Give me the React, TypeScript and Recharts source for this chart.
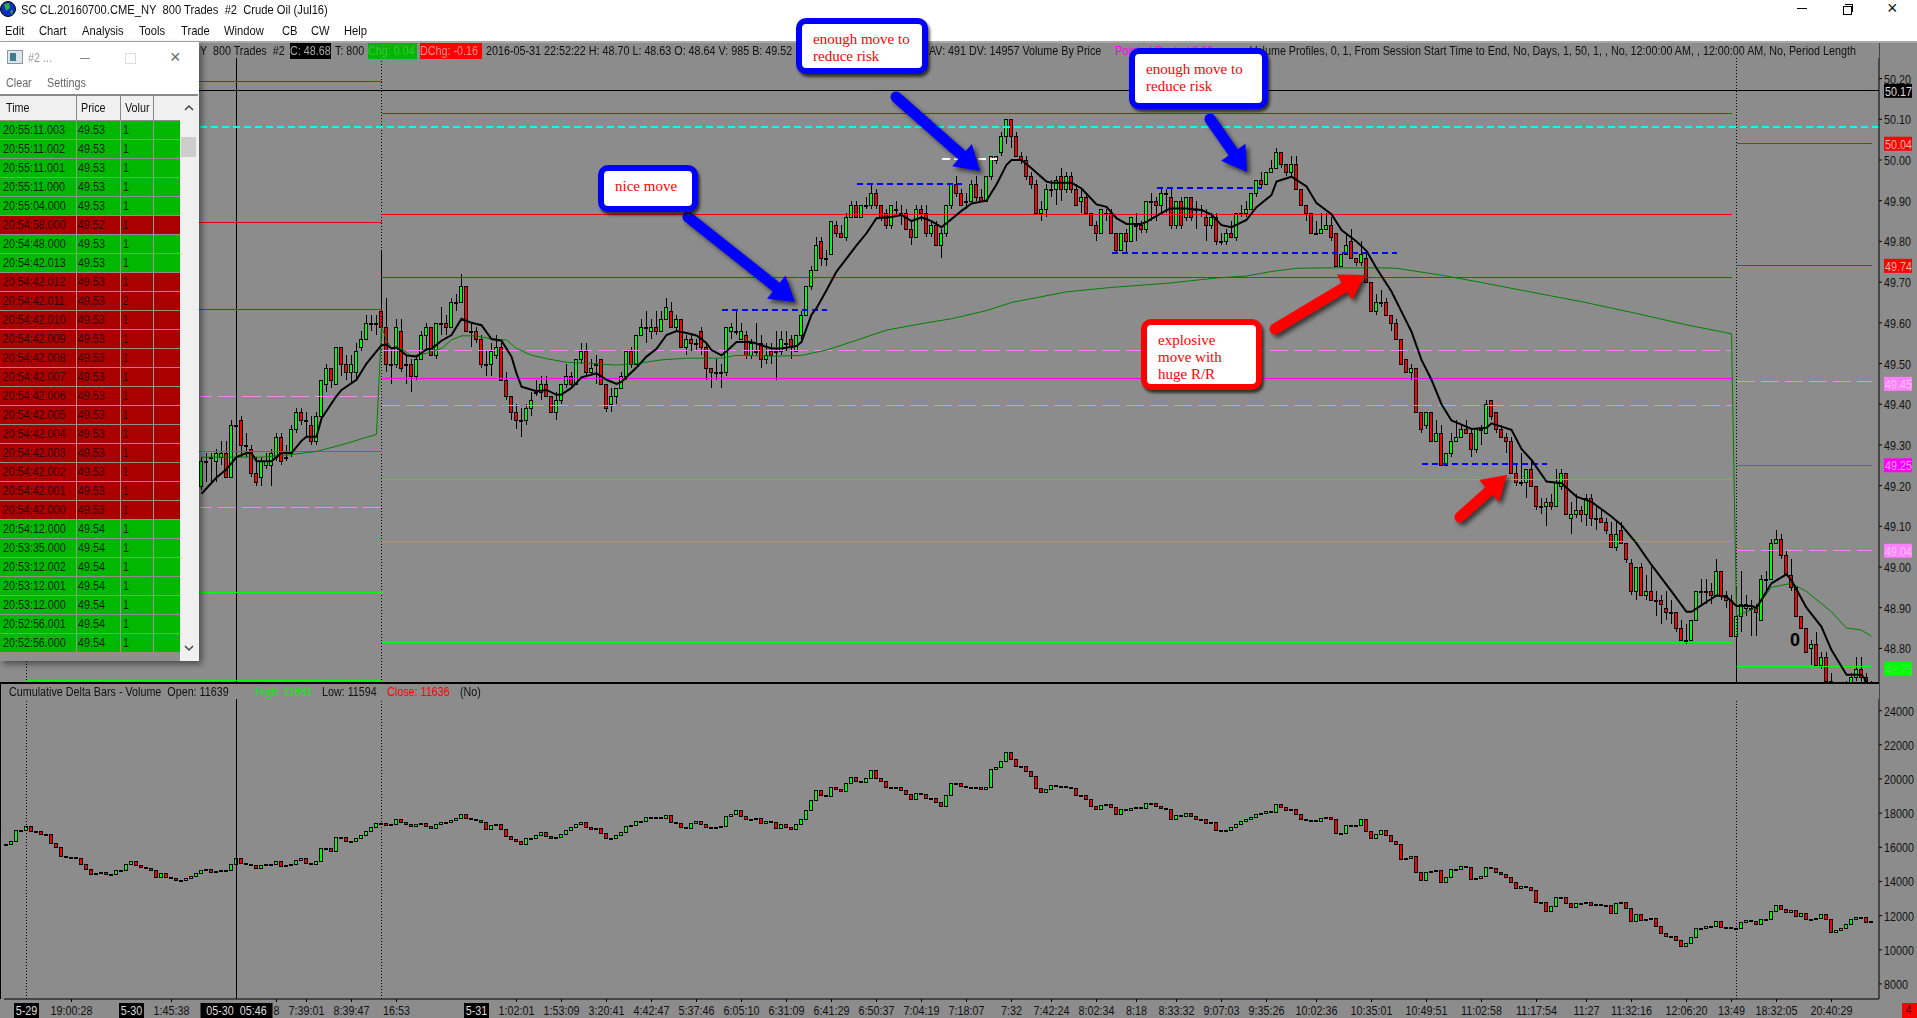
import { Bar, ComposedChart, Line, ReferenceLine, XAxis, YAxis } from "recharts";

// ---- price panel candles, bar 39 onward (everything before sits behind the time & sales window)
const PRICE_FIRST_BAR = 39;
const priceOpen = [
  49.20,49.26,49.27,49.26,49.27,49.28,49.22,49.35,49.36,49.30,
  49.29,49.23,49.22,49.25,49.25,49.27,49.32,49.27,49.28,49.34,
  49.38,49.36,49.35,49.31,49.37,49.45,49.49,49.45,49.54,49.50,
  49.48,49.48,49.54,49.56,49.60,49.60,49.63,49.59,49.50,49.50,
  49.58,49.50,49.50,49.47,49.51,49.57,49.59,49.52,49.60,49.60,
  49.59,49.65,49.65,49.69,49.58,49.58,49.56,49.50,49.50,49.52,
  49.54,49.46,49.42,49.38,49.36,49.36,49.39,49.43,49.43,49.45,
  49.42,49.38,49.41,49.45,49.47,49.45,49.51,49.53,49.48,49.50,
  49.51,49.45,49.40,49.42,49.44,49.47,49.53,49.50,49.57,49.59,
  49.58,49.59,49.58,49.61,49.63,49.59,49.61,49.54,49.56,49.55,
  49.58,49.54,49.49,49.48,49.48,49.48,49.58,49.58,49.56,49.57,
  49.52,49.53,49.55,49.51,49.53,49.53,49.53,49.55,49.56,49.53,
  49.57,49.62,49.69,49.73,49.80,49.76,49.77,49.84,49.82,49.81,
  49.86,49.89,49.86,49.89,49.89,49.92,49.89,49.87,49.84,49.88,
  49.87,49.87,49.83,49.81,49.88,49.87,49.82,49.84,49.79,49.82,
  49.89,49.94,49.92,49.90,49.90,49.94,49.91,49.90,49.96,50.00,
  50.02,50.06,50.10,50.06,50.01,50.00,49.96,49.94,49.87,49.88,
  49.93,49.93,49.96,49.93,49.96,49.93,49.90,49.91,49.87,49.84,
  49.82,49.87,49.87,49.82,49.78,49.82,49.80,49.84,49.84,49.83,
  49.90,49.90,49.89,49.92,49.91,49.84,49.90,49.86,49.91,49.88,
  49.88,49.86,49.84,49.86,49.80,49.80,49.82,49.81,49.87,49.87,
  49.88,49.92,49.95,49.94,49.97,49.98,50.02,49.99,49.97,49.99,
  49.93,49.89,49.87,49.82,49.82,49.83,49.84,49.82,49.74,49.77,
  49.80,49.76,49.75,49.76,49.70,49.63,49.65,49.65,49.62,49.60,
  49.56,49.51,49.48,49.49,49.38,49.35,49.38,49.31,49.33,49.25,
  49.28,49.31,49.32,49.34,49.33,49.29,49.34,49.33,49.41,49.38,
  49.34,49.32,49.31,49.23,49.21,49.21,49.24,49.20,49.15,49.15,
  49.16,49.15,49.20,49.23,49.12,49.13,49.14,49.13,49.17,49.12,
  49.12,49.11,49.08,49.05,49.09,49.06,49.01,48.94,49.00,48.93,
  48.94,48.92,48.92,48.90,48.89,48.89,48.85,48.82,48.82,48.87,
  48.94,48.94,48.94,48.93,48.99,48.93,48.92,48.83,48.88,48.90,
  48.90,48.90,48.87,48.97,48.97,49.06,49.07,49.03,48.98,48.95,
  48.88,48.85,48.80,48.81,48.76,48.78,48.72,48.70,48.69,48.69,
  48.70,48.73,48.75,48.73,48.71,
];
const priceClose = [
  49.26,49.26,49.27,49.28,49.28,49.22,49.35,49.35,49.30,49.30,
  49.23,49.21,49.26,49.26,49.28,49.32,49.26,49.27,49.34,49.38,
  49.36,49.36,49.31,49.37,49.46,49.49,49.46,49.54,49.50,49.48,
  49.50,49.53,49.56,49.60,49.60,49.60,49.59,49.50,49.50,49.59,
  49.49,49.50,49.47,49.51,49.57,49.59,49.52,49.60,49.60,49.59,
  49.65,49.65,49.69,49.58,49.58,49.56,49.50,49.50,49.53,49.54,
  49.46,49.42,49.38,49.36,49.36,49.39,49.41,49.43,49.45,49.42,
  49.38,49.41,49.45,49.47,49.45,49.51,49.53,49.48,49.49,49.50,
  49.45,49.39,49.42,49.44,49.47,49.53,49.50,49.57,49.59,49.59,
  49.59,49.58,49.61,49.64,49.59,49.61,49.54,49.56,49.55,49.55,
  49.54,49.49,49.48,49.48,49.48,49.59,49.59,49.58,49.58,49.52,
  49.55,49.53,49.51,49.52,49.52,49.53,49.56,49.55,49.54,49.57,
  49.62,49.69,49.73,49.79,49.76,49.76,49.85,49.82,49.81,49.86,
  49.89,49.86,49.89,49.89,49.92,49.89,49.86,49.84,49.89,49.88,
  49.87,49.83,49.81,49.88,49.87,49.82,49.84,49.79,49.82,49.89,
  49.94,49.92,49.89,49.90,49.94,49.91,49.90,49.96,50.01,50.01,
  50.06,50.10,50.06,50.01,50.00,49.96,49.94,49.87,49.88,49.93,
  49.93,49.95,49.93,49.96,49.93,49.89,49.91,49.87,49.84,49.82,
  49.88,49.87,49.82,49.78,49.82,49.80,49.86,49.84,49.83,49.90,
  49.90,49.89,49.92,49.92,49.84,49.90,49.84,49.91,49.86,49.88,
  49.88,49.84,49.86,49.80,49.80,49.82,49.81,49.87,49.87,49.88,
  49.92,49.95,49.94,49.97,49.98,50.02,49.99,49.97,49.99,49.93,
  49.89,49.87,49.82,49.82,49.83,49.84,49.81,49.74,49.77,49.79,
  49.76,49.75,49.77,49.70,49.63,49.65,49.65,49.62,49.60,49.56,
  49.50,49.48,49.49,49.38,49.34,49.38,49.31,49.33,49.25,49.28,
  49.31,49.32,49.34,49.33,49.29,49.34,49.34,49.40,49.37,49.34,
  49.32,49.31,49.23,49.21,49.21,49.24,49.20,49.15,49.15,49.16,
  49.15,49.21,49.23,49.13,49.13,49.14,49.13,49.17,49.12,49.12,
  49.11,49.09,49.05,49.08,49.06,49.02,48.94,49.00,48.93,48.94,
  48.92,48.92,48.91,48.89,48.89,48.85,48.82,48.82,48.87,48.94,
  48.94,48.94,48.93,48.99,48.93,48.92,48.83,48.88,48.91,48.91,
  48.90,48.89,48.97,48.97,49.06,49.07,49.03,48.98,48.95,48.88,
  48.85,48.79,48.81,48.76,48.78,48.72,48.70,48.69,48.69,48.71,
  48.73,48.75,48.73,48.72,48.71,
];
const priceHigh = [
  49.27,49.28,49.28,49.29,49.31,49.31,49.36,49.37,49.37,49.33,
  49.30,49.27,49.27,49.28,49.29,49.33,49.33,49.30,49.35,49.39,
  49.39,49.38,49.37,49.38,49.46,49.50,49.49,49.54,49.54,49.52,
  49.52,49.55,49.58,49.62,49.62,49.62,49.78,49.66,49.53,49.61,
  49.61,49.52,49.51,49.52,49.58,49.60,49.59,49.60,49.64,49.62,
  49.66,49.67,49.72,49.69,49.60,49.59,49.57,49.53,49.55,49.57,
  49.55,49.48,49.42,49.40,49.39,49.40,49.43,49.46,49.47,49.47,
  49.42,49.43,49.45,49.50,49.48,49.51,49.55,49.55,49.51,49.52,
  49.51,49.45,49.44,49.44,49.48,49.53,49.54,49.57,49.61,49.63,
  49.61,49.63,49.63,49.66,49.65,49.62,49.61,49.57,49.57,49.56,
  49.59,49.55,49.49,49.51,49.50,49.59,49.60,49.63,49.60,49.58,
  49.56,49.60,49.57,49.55,49.55,49.58,49.58,49.58,49.57,49.57,
  49.63,49.69,49.74,49.81,49.81,49.78,49.85,49.85,49.84,49.87,
  49.90,49.90,49.89,49.91,49.94,49.93,49.89,49.88,49.89,49.90,
  49.89,49.88,49.85,49.89,49.89,49.89,49.85,49.85,49.83,49.89,
  49.94,49.96,49.93,49.92,49.95,49.96,49.93,49.96,50.01,50.01,
  50.07,50.10,50.10,50.07,50.02,50.01,49.97,49.95,49.90,49.94,
  49.95,49.96,49.98,49.97,49.97,49.94,49.93,49.92,49.87,49.85,
  49.88,49.88,49.88,49.82,49.82,49.83,49.86,49.87,49.85,49.90,
  49.92,49.91,49.93,49.93,49.93,49.90,49.91,49.91,49.91,49.90,
  49.89,49.88,49.87,49.87,49.82,49.83,49.85,49.87,49.89,49.90,
  49.92,49.95,49.97,49.97,50.00,50.03,50.02,49.99,50.01,50.01,
  49.93,49.89,49.87,49.85,49.87,49.87,49.86,49.82,49.77,49.82,
  49.83,49.76,49.80,49.77,49.70,49.67,49.68,49.66,49.62,49.61,
  49.56,49.51,49.50,49.49,49.38,49.38,49.38,49.36,49.35,49.28,
  49.33,49.36,49.35,49.36,49.34,49.34,49.35,49.41,49.41,49.38,
  49.35,49.33,49.32,49.25,49.28,49.24,49.26,49.20,49.17,49.17,
  49.18,49.24,49.24,49.23,49.16,49.18,49.15,49.18,49.18,49.15,
  49.14,49.12,49.11,49.11,49.11,49.06,49.02,49.00,49.01,48.98,
  49.00,48.94,48.93,48.94,48.92,48.89,48.87,48.86,48.87,48.94,
  48.97,48.97,48.96,49.02,48.99,48.94,48.93,48.95,48.99,48.93,
  48.92,48.91,48.98,48.99,49.07,49.09,49.08,49.04,49.02,48.95,
  48.88,48.85,48.82,48.84,48.79,48.79,48.74,48.70,48.70,48.72,
  48.74,48.78,48.78,48.74,48.72,
];
const priceLow = [
  49.19,49.21,49.21,49.21,49.25,49.22,49.22,49.30,49.27,49.27,
  49.22,49.20,49.20,49.24,49.20,49.26,49.25,49.26,49.27,49.33,
  49.35,49.32,49.30,49.30,49.37,49.43,49.44,49.45,49.47,49.46,
  49.45,49.46,49.53,49.56,49.58,49.57,49.56,49.48,49.45,49.49,
  49.48,49.45,49.43,49.46,49.51,49.53,49.52,49.51,49.57,49.57,
  49.59,49.63,49.65,49.58,49.54,49.55,49.49,49.47,49.47,49.51,
  49.46,49.41,49.36,49.34,49.32,49.35,49.37,49.42,49.41,49.42,
  49.38,49.36,49.40,49.44,49.44,49.45,49.50,49.47,49.47,49.45,
  49.45,49.38,49.38,49.40,49.44,49.46,49.49,49.50,49.57,49.55,
  49.56,49.57,49.58,49.61,49.59,49.58,49.54,49.52,49.53,49.53,
  49.52,49.46,49.44,49.46,49.44,49.47,49.56,49.57,49.56,49.51,
  49.51,49.52,49.49,49.50,49.50,49.46,49.52,49.53,49.51,49.53,
  49.56,49.62,49.68,49.73,49.74,49.74,49.77,49.81,49.81,49.80,
  49.86,49.86,49.86,49.88,49.88,49.88,49.85,49.83,49.83,49.86,
  49.84,49.83,49.79,49.81,49.85,49.81,49.81,49.79,49.76,49.81,
  49.88,49.91,49.89,49.88,49.90,49.90,49.90,49.90,49.95,49.99,
  50.01,50.04,50.03,50.01,49.99,49.95,49.93,49.87,49.85,49.86,
  49.91,49.89,49.90,49.92,49.92,49.89,49.87,49.87,49.84,49.80,
  49.82,49.85,49.82,49.77,49.78,49.77,49.80,49.80,49.82,49.82,
  49.85,49.85,49.87,49.87,49.83,49.83,49.83,49.85,49.85,49.83,
  49.86,49.80,49.83,49.79,49.79,49.79,49.81,49.80,49.86,49.86,
  49.88,49.91,49.93,49.94,49.97,49.98,49.98,49.96,49.96,49.93,
  49.89,49.85,49.82,49.82,49.82,49.83,49.80,49.74,49.74,49.77,
  49.76,49.74,49.74,49.70,49.63,49.62,49.64,49.62,49.58,49.56,
  49.50,49.48,49.46,49.38,49.33,49.34,49.31,49.31,49.25,49.25,
  49.27,49.31,49.32,49.33,49.27,49.28,49.30,49.33,49.36,49.33,
  49.32,49.28,49.23,49.20,49.20,49.17,49.20,49.14,49.13,49.10,
  49.14,49.15,49.19,49.13,49.08,49.12,49.11,49.10,49.10,49.09,
  49.11,49.08,49.05,49.04,49.06,49.01,48.93,48.92,48.93,48.92,
  48.92,48.88,48.86,48.87,48.86,48.84,48.82,48.81,48.82,48.87,
  48.91,48.91,48.91,48.93,48.92,48.90,48.83,48.71,48.84,48.88,
  48.83,48.83,48.87,48.94,48.97,49.06,49.02,48.98,48.94,48.88,
  48.85,48.79,48.76,48.76,48.75,48.72,48.70,48.69,48.68,48.69,
  48.70,48.72,48.71,48.70,48.70,
];

// black moving average, read at the bends
const maBars = [39,42,44,46,48,49,50,53,55,57,59,60,62,63,66,67,70,72,75,76,77,78,80,82,84,85,87,89,91,93,95,97,99,101,102,103,106,108,110,111,113,115,118,120,122,123,126,128,130,132,134,136,138,139,140,141,143,144,146,149,151,153,155,158,159,161,162,164,166,170,172,174,177,179,181,183,185,187,190,191,193,196,198,200,201,203,205,208,209,213,215,216,218,220,222,224,227,228,232,233,236,239,241,243,245,248,250,253,254,257,260,262,265,267,270,272,274,277,280,281,283,285,287,289,291,293,296,297,299,301,303,305,308,311,314,317,321,323,326,329,333,336,337,342,344,346,349,350,353,356,357,360,363,365,368,371,372];
const maValues = [49.18,49.22,49.24,49.27,49.28,49.28,49.26,49.26,49.28,49.28,49.31,49.32,49.32,49.365,49.42,49.435,49.46,49.50,49.545,49.546,49.537,49.54,49.52,49.517,49.535,49.536,49.556,49.57,49.61,49.60,49.594,49.56,49.556,49.517,49.476,49.443,49.432,49.435,49.423,49.424,49.44,49.466,49.476,49.46,49.45,49.455,49.49,49.517,49.536,49.57,49.58,49.575,49.569,49.56,49.55,49.533,49.52,49.53,49.553,49.553,49.545,49.537,49.537,49.543,49.553,49.62,49.636,49.68,49.726,49.79,49.82,49.857,49.86,49.865,49.85,49.859,49.85,49.835,49.865,49.875,49.893,49.90,49.94,49.988,50.00,50.00,49.98,49.947,49.944,49.944,49.93,49.917,49.891,49.885,49.857,49.843,49.843,49.848,49.877,49.881,49.881,49.877,49.866,49.84,49.835,49.853,49.884,49.914,49.947,49.959,49.935,49.894,49.867,49.828,49.80,49.777,49.734,49.677,49.603,49.578,49.509,49.46,49.40,49.36,49.35,49.339,49.342,49.353,49.345,49.337,49.29,49.263,49.21,49.206,49.173,49.16,49.124,49.103,49.058,49.005,48.94,48.89,48.89,48.93,48.927,48.904,48.904,48.90,48.96,48.982,48.967,48.90,48.853,48.796,48.735,48.735,48.72];

// thin green session average, read at the bends
const avgBars = [39,51,56,62,67,74,75,76,77,79,81,84,87,89,91,94,97,100,102,105,108,112,117,122,126,131,136,143,146,154,159,164,170,176,184,189,196,201,212,221,232,242,248,253,258,263,275,278,287,295,303,315,326,336,345,346,350,353,357,360,365,368,371,373];
const avgValues = [49.27,49.27,49.275,49.284,49.30,49.326,49.59,49.558,49.537,49.537,49.518,49.525,49.537,49.558,49.568,49.568,49.56,49.558,49.537,49.52,49.512,49.503,49.50,49.496,49.50,49.509,49.513,49.513,49.52,49.518,49.52,49.533,49.557,49.582,49.60,49.61,49.63,49.65,49.676,49.687,49.697,49.71,49.715,49.726,49.734,49.735,49.735,49.734,49.717,49.699,49.68,49.652,49.623,49.595,49.573,48.88,48.90,48.95,48.96,48.94,48.89,48.85,48.845,48.83];

// cumulative delta closes, one per bar from bar 0 (a bar opens where the last one closed)
const deltaClose = [
  16194,16350,17014,17014,17248,16975,16975,16760,16760,16233,
  16000,15511,15413,15413,15355,15003,14750,14457,14516,14535,
  14418,14418,14652,14652,15023,15179,14945,14828,14808,14652,
  14281,14496,14281,14222,14105,14105,14183,14339,14476,14671,
  14711,14574,14633,14671,14652,15003,15355,15062,15023,14984,
  14808,14964,15003,15023,15198,14886,14945,15023,15277,15355,
  15101,15042,15179,15940,15940,15804,16585,16585,16389,16389,
  16565,16741,16975,17209,17443,17443,17326,17365,17678,17463,
  17385,17268,17346,17404,17268,17150,17385,17482,17482,17580,
  17697,17951,17697,17678,17600,17463,17053,17326,17365,17053,
  16682,16506,16370,16175,16526,16565,16741,16897,16682,16565,
  16623,16780,16994,17170,17346,17502,17209,17073,17111,16818,
  16565,16565,16741,16916,17248,17287,17521,17560,17775,17736,
  17756,17697,17892,17502,17404,17170,17150,17404,17541,17385,
  17170,17131,17170,17248,17834,17931,18166,17853,17639,17639,
  17697,17404,17541,17502,17131,17346,17189,17053,17346,17678,
  18166,18771,19337,19063,19024,19551,19434,19317,19747,20098,
  19903,19844,20040,20528,20079,19864,19512,19512,19532,19337,
  19141,18810,19161,19122,18907,18907,18673,18419,19083,19747,
  19786,19590,19551,19551,19551,19395,19551,20567,20703,21055,
  21562,21152,20781,20781,20450,20196,19493,19259,19434,19630,
  19610,19590,19512,19454,19083,19063,18849,18439,18224,18497,
  18536,18380,17970,18224,18185,18302,18341,18302,18576,18595,
  18400,18322,18224,17678,17873,17834,17990,17834,17639,17639,
  17443,17482,17014,17014,17014,17170,17346,17521,17639,17775,
  17970,18029,18127,18088,18517,18341,18166,18224,17931,17639,
  17600,17580,17521,17697,17756,17639,16818,16838,17307,17326,
  17326,17639,16975,16526,16799,17033,16701,16389,16175,15335,
  15355,15491,14574,14066,14535,14633,14671,13988,14242,14730,
  14750,14886,14867,14164,14203,14339,14828,14808,14574,14437,
  14281,13988,13598,13735,13696,13481,12778,12778,12290,12563,
  13071,13110,12758,12524,12758,12758,12778,12622,12680,12641,
  12641,12173,12758,12817,12427,11704,12075,11743,11821,11860,
  11392,10997,10806,10806,10572,10240,10416,10729,11256,11295,
  11412,11373,11704,11314,11334,11295,11256,11607,11744,11704,
  11509,11782,11821,12290,12622,12407,12232,12329,11978,12134,
  11821,11821,11860,12075,11782,11060,11138,11275,11490,11782,
  11939,11919,11646,11685,
];

// axis ticks
const priceTicks = [50.2,50.1,50.0,49.9,49.8,49.7,49.6,49.5,49.4,49.3,49.2,49.1,49.0,48.9,48.8];
const priceBadgeValues = [50.17,50.04,49.74,49.45,49.25,49.04,48.75];
const priceBadgeColors = ["#000000","#ff0000","#ff0000","#ff80ff","#ff00ff","#ff80ff","#00ff00"];
const priceBadgeInks = ["#dddddd","#ffb0b0","#ffb0b0","#ffc0ff","#ff9cff","#ffc0ff","#50e050"];
const deltaTicks = [24000,22000,20000,18000,16000,14000,12000,10000,8000];
const timeBars = [4,13,25,33,46,54,60,69,78,94,102,111,120,129,138,147,156,165,174,183,192,201,209,218,226,234,243,252,262,273,284,295,306,316,325,336,345,354,365];
const timeLabels = ["5-29","19:00:28","5-30","1:45:38","05-30  05:46","8","7:39:01","8:39:47","16:53","5-31","1:02:01","1:53:09","3:20:41","4:42:47","5:37:46","6:05:10","6:31:09","6:41:29","6:50:37","7:04:19","7:18:07","7:32","7:42:24","8:02:34","8:18","8:33:32","9:07:03","9:35:26","10:02:36","10:35:01","10:49:51","11:02:58","11:17:54","11:27","11:32:16","12:06:20","13:49","18:32:05","20:40:29"];
const dateLabels = ["5-29","5-30","5-31"];

// study levels per session: [first bar, last bar]
const sessionOne = [4,75];
const sessionTwo = [75,345];
const sessionThree = [346,373];
const redOne = [50.193,49.847,49.633];
const redTwo = [50.115,49.712];
const redBright = [49.867];
const redThree = [50.04,49.74];
const pinkOne = [49.42,49.147];
const pinkTwo = [49.532,49.397];
const pinkThree = [49.455,49.04];
const magentaOne = [49.283];
const magentaTwo = [49.463];
const magentaThree = [49.25];
const greenOne = [48.938,48.72];
const greenTwo = [49.215,49.063,48.815];
const greenThree = [48.755];

// hand drawn dashed levels
const blueLevels = [49.631,49.941,49.931,49.771,49.253];
const blueFrom = [143,170,230,221,283];
const blueTo = [164,191,251,278,308];

// time & sales window
const tapeTimes = ["20:55:11.003","20:55:11.002","20:55:11.001","20:55:11.000","20:55:04.000","20:54:58.000","20:54:48.000","20:54:42.013","20:54:42.012","20:54:42.011","20:54:42.010","20:54:42.009","20:54:42.008","20:54:42.007","20:54:42.006","20:54:42.005","20:54:42.004","20:54:42.003","20:54:42.002","20:54:42.001","20:54:42.000","20:54:12.000","20:53:35.000","20:53:12.002","20:53:12.001","20:53:12.000","20:52:56.001","20:52:56.000"];
const tapePrices = ["49.53","49.53","49.53","49.53","49.53","49.52","49.53","49.53","49.53","49.53","49.53","49.53","49.53","49.53","49.53","49.53","49.53","49.53","49.53","49.53","49.53","49.54","49.54","49.54","49.54","49.54","49.54","49.54"];
const tapeVolumes = [1,1,1,1,1,1,1,1,1,2,1,1,1,1,1,1,1,1,1,1,1,1,1,1,1,1,1,1];
const tapeSides = "GGGGGRGGRRRRRRRRRRRRRGGGGGGG";

const allBars = Array.from({ length: 375 }, (_, i) => i);

const priceRows = allBars.map((idx) => {
  const k = idx - PRICE_FIRST_BAR;
  const on = k >= 0 && k < priceOpen.length;
  const m = maBars.indexOf(idx);
  const a = avgBars.indexOf(idx);
  return {
    idx,
    o: on ? priceOpen[k] : null,
    c: on ? priceClose[k] : null,
    h: on ? priceHigh[k] : null,
    l: on ? priceLow[k] : null,
    ma: m >= 0 ? maValues[m] : null,
    avg: a >= 0 ? avgValues[a] : null,
  };
});

const deltaRows = allBars.map((idx) => {
  if (idx >= deltaClose.length) return { idx, o: null, c: null, h: null, l: null };
  const c = deltaClose[idx];
  const o = idx > 0 ? deltaClose[idx - 1] : c;
  return { idx, o, c, h: Math.max(o, c), l: Math.min(o, c) };
});

// the platform font is a narrow one, none is installed so Liberation Sans gets squeezed
const FONT = "'Liberation Sans',sans-serif";
const FONT_SIZE = 12.5;
const SQUEEZE = 0.86;
const GREY = "#8c8c8c";

function Candle(props: any) {
  const { x, y, width, height, payload } = props;
  if (payload.o == null) return null;
  const cx = Math.floor(x + width / 2) + 0.5;
  const h = Math.abs(height);
  const span = payload.h - payload.l;
  const ppu = span > 0 ? h / span : 0;
  const top = y + (payload.h - Math.max(payload.o, payload.c)) * ppu;
  const bot = y + (payload.h - Math.min(payload.o, payload.c)) * ppu;
  const fill = payload.c > payload.o ? "#00ff00" : payload.c < payload.o ? "#ff0000" : "#000000";
  const t = Math.round(top) + 0.5;
  const b = Math.max(Math.round(bot), Math.round(top) + 1) + 0.5;
  return (
    <g shapeRendering="crispEdges">
      <line x1={cx} x2={cx} y1={y} y2={y + h} stroke="#000" />
      <rect x={cx - 2} y={t} width={3} height={b - t} fill={fill} stroke="#000" />
    </g>
  );
}

const priceRange = (d: any) => (d.o == null ? null : [d.l, d.h]);

function AxisText({ x, y, anchor = "start", fill = "#111", children }: any) {
  return (
    <text
      transform={`translate(${x},${y}) scale(${SQUEEZE},1)`}
      textAnchor={anchor}
      fontSize={FONT_SIZE}
      fontFamily={FONT}
      fill={fill}
      xmlSpace="preserve"
    >
      {children}
    </text>
  );
}

function PriceTick({ x, y, payload }: any) {
  const v = payload.value;
  const b = priceBadgeValues.indexOf(v);
  if (b >= 0) {
    return (
      <g>
        <rect x={x + 5} y={y - 7} width={28} height={14} fill={priceBadgeColors[b]} />
        <AxisText x={x + 6} y={y + 5} fill={priceBadgeInks[b]}>{v.toFixed(2)}</AxisText>
      </g>
    );
  }
  return (
    <g>
      <line x1={x} x2={x + 3} y1={y} y2={y} stroke="#000" />
      <AxisText x={x + 5} y={y + 5}>{v.toFixed(2)}</AxisText>
    </g>
  );
}

function DeltaTick({ x, y, payload }: any) {
  return (
    <g>
      <line x1={x} x2={x + 3} y1={y} y2={y} stroke="#000" />
      <AxisText x={x + 5} y={y + 5}>{payload.value}</AxisText>
    </g>
  );
}

function TimeTick({ x, y, payload }: any) {
  const label = timeLabels[timeBars.indexOf(payload.value)];
  const isDate = dateLabels.includes(label);
  const isCross = label === "05-30  05:46";
  if (isDate || isCross) {
    const w = isCross ? 72 : 25;
    return (
      <g>
        <rect x={x - w / 2} y={y + 4} width={w} height={15} fill="#000" />
        <AxisText x={x} y={y + 16} anchor="middle" fill="#ddd">{label}</AxisText>
      </g>
    );
  }
  return (
    <g>
      <line x1={x} x2={x} y1={y} y2={y + 3} stroke="#000" />
      <AxisText x={x} y={y + 16} anchor="middle">{label}</AxisText>
    </g>
  );
}

function levelLines(values: number[], span: number[], color: string, dash?: string) {
  return values.map((v) => (
    <ReferenceLine
      key={`${color}-${v}`}
      segment={[{ x: span[0], y: v }, { x: span[1], y: v }]}
      stroke={color}
      strokeWidth={1}
      strokeDasharray={dash}
      shapeRendering="crispEdges"
    />
  ));
}

function PriceChart() {
  return (
    <ComposedChart
      width={1917}
      height={640}
      data={priceRows}
      margin={{ top: 0, right: 0, left: 4, bottom: 0 }}
      barCategoryGap={0}
    >
      <XAxis dataKey="idx" type="category" hide />
      <YAxis
        orientation="right"
        width={38}
        type="number"
        domain={[48.715, 50.2875]}
        allowDataOverflow
        ticks={[...priceTicks, ...priceBadgeValues]}
        interval={0}
        tick={<PriceTick />}
        tickLine={false}
        tickSize={0}
        tickMargin={0}
        axisLine={{ stroke: "#000" }}
      />
      <ReferenceLine x={4} stroke="#000" strokeDasharray="1 2" />
      <ReferenceLine x={75} stroke="#000" strokeDasharray="1 2" />
      <ReferenceLine x={346} stroke="#000" strokeDasharray="1 2" />
      <ReferenceLine x={46} stroke="#000" shapeRendering="crispEdges" />
      <ReferenceLine y={50.17} stroke="#000" shapeRendering="crispEdges" />
      <ReferenceLine y={50.08} stroke="#00ffff" strokeWidth={2} strokeDasharray="7 4" shapeRendering="crispEdges" />
      {levelLines(redOne, sessionOne, "#e60000")}
      {levelLines(redTwo, sessionTwo, "#e60000")}
      {levelLines(redBright, sessionTwo, "#ff0000")}
      {levelLines(redThree, sessionThree, "#ff0000")}
      {levelLines(pinkOne, sessionOne, "#ff80ff", "18 6")}
      {levelLines(pinkTwo, sessionTwo, "#ff80ff", "18 6")}
      {levelLines(pinkThree, sessionThree, "#ff80ff", "18 6")}
      <Bar dataKey={priceRange} shape={(p: any) => <Candle {...p} />} isAnimationActive={false} />
      {levelLines(magentaOne, sessionOne, "#ff00ff")}
      {levelLines(magentaTwo, sessionTwo, "#ff00ff")}
      {levelLines(magentaThree, sessionThree, "#ff00ff")}
      {levelLines(greenOne, sessionOne, "#00ff00")}
      {levelLines(greenTwo, sessionTwo, "#00ff00")}
      {levelLines(greenThree, sessionThree, "#00ff00")}
      {blueLevels.map((v, i) => (
        <ReferenceLine
          key={v}
          segment={[{ x: blueFrom[i], y: v }, { x: blueTo[i], y: v }]}
          stroke="#0000ff"
          strokeWidth={2}
          strokeDasharray="6 4"
          shapeRendering="crispEdges"
        />
      ))}
      <ReferenceLine
        segment={[{ x: 187, y: 50.003 }, { x: 198, y: 50.003 }]}
        stroke="#ffffff"
        strokeWidth={2}
        strokeDasharray="8 4"
        shapeRendering="crispEdges"
      />
      <Line dataKey="avg" stroke="#008000" strokeWidth={1} dot={false} connectNulls isAnimationActive={false} />
      <Line dataKey="ma" stroke="#000" strokeWidth={2} dot={false} connectNulls isAnimationActive={false} />
    </ComposedChart>
  );
}

function DeltaChart() {
  return (
    <ComposedChart
      width={1917}
      height={335}
      data={deltaRows}
      margin={{ top: 0, right: 0, left: 4, bottom: 0 }}
      barCategoryGap={0}
    >
      <XAxis
        dataKey="idx"
        type="category"
        ticks={timeBars}
        interval={0}
        height={19}
        tick={<TimeTick />}
        tickLine={false}
        tickSize={0}
        tickMargin={0}
        axisLine={{ stroke: "#000" }}
      />
      <YAxis
        orientation="right"
        width={38}
        type="number"
        domain={[7116, 25622]}
        allowDataOverflow
        ticks={deltaTicks}
        interval={0}
        tick={<DeltaTick />}
        tickLine={false}
        tickSize={0}
        tickMargin={0}
        axisLine={{ stroke: "#000" }}
      />
      <ReferenceLine x={4} stroke="#000" strokeDasharray="1 2" />
      <ReferenceLine x={75} stroke="#000" strokeDasharray="1 2" />
      <ReferenceLine x={346} stroke="#000" strokeDasharray="1 2" />
      <ReferenceLine x={46} stroke="#000" shapeRendering="crispEdges" />
      <Bar dataKey={priceRange} shape={(p: any) => <Candle {...p} />} isAnimationActive={false} />
    </ComposedChart>
  );
}

function Txt({ x, y, color = "#111", bg, w, size = FONT_SIZE, children, bold, squeeze = SQUEEZE }: any) {
  return (
    <div
      style={{
        position: "absolute",
        left: x,
        top: y,
        width: w,
        height: 16,
        background: bg,
        overflow: w ? "hidden" : "visible",
      }}
    >
      <div
        style={{
          color,
          fontSize: size,
          fontFamily: FONT,
          fontWeight: bold ? 700 : 400,
          lineHeight: "16px",
          whiteSpace: "pre",
          transform: `scaleX(${squeeze})`,
          transformOrigin: "0 0",
        }}
      >
        {children}
      </div>
    </div>
  );
}

function Callout({ x, y, w, h, color, lines }: any) {
  return (
    <div
      style={{
        position: "absolute",
        left: x,
        top: y,
        width: w,
        height: h,
        boxSizing: "border-box",
        background: "#fff",
        border: `6px solid ${color}`,
        borderRadius: 10,
        boxShadow: "2px 3px 3px rgba(0,0,0,0.65)",
      }}
    >
      {lines.map((t: string, i: number) => (
        <div
          key={t}
          style={{
            position: "absolute",
            left: 11,
            top: 7 + i * 17,
            color: "#ff0000",
            font: "15px/17px 'Liberation Serif',serif",
            whiteSpace: "pre",
          }}
        >
          {t}
        </div>
      ))}
    </div>
  );
}

function Arrow({ x1, y1, x2, y2, color, thick = 11, head = 24 }: any) {
  const len = Math.hypot(x2 - x1, y2 - y1);
  const ux = (x2 - x1) / len;
  const uy = (y2 - y1) / len;
  const bx = x2 - ux * head;
  const by = y2 - uy * head;
  const pts = [
    [x2, y2],
    [bx - uy * head * 0.62, by + ux * head * 0.62],
    [bx + uy * head * 0.62, by - ux * head * 0.62],
  ];
  return (
    <g style={{ filter: "drop-shadow(3px 3px 2px rgba(0,0,0,0.6))" }}>
      <line x1={x1} y1={y1} x2={bx} y2={by} stroke={color} strokeWidth={thick} strokeLinecap="round" />
      <polygon points={pts.map((p) => p.join(",")).join(" ")} fill={color} />
    </g>
  );
}

function TapeWindow() {
  return (
    <div
      style={{
        position: "absolute",
        left: 0,
        top: 42,
        width: 199,
        height: 619,
        background: "#fff",
        boxShadow: "3px 3px 6px rgba(0,0,0,0.45)",
        overflow: "hidden",
      }}
    >
      <svg width={16} height={14} style={{ position: "absolute", left: 7, top: 8 }}>
        <rect x={0.5} y={0.5} width={15} height={13} fill="#dfe6ea" stroke="#8a9aa5" />
        <rect x={3} y={3} width={6} height={8} fill="#3f7d8e" />
      </svg>
      <Txt x={28} y={8} color="#999">#2 ...</Txt>
      <div style={{ position: "absolute", left: 80, top: 16, width: 10, height: 1, background: "#888" }} />
      <div style={{ position: "absolute", left: 125, top: 11, width: 9, height: 9, border: "1px solid #ddd" }} />
      <Txt x={170} y={7} color="#666" size={18} squeeze={1}>×</Txt>
      <Txt x={6} y={33} color="#666">Clear</Txt>
      <Txt x={47} y={33} color="#666">Settings</Txt>
      <div style={{ position: "absolute", left: 0, top: 52, width: 199, height: 567, background: "#f0f0f0" }} />
      <div style={{ position: "absolute", left: 0, top: 52, width: 198, height: 2, background: "#888" }} />
      {[["Time", 6], ["Price", 81], ["Volur", 125]].map(([t, x]) => (
        <Txt key={t as string} x={x} y={58} color="#111">{t}</Txt>
      ))}
      {[76, 120, 153].map((x) => (
        <div key={x} style={{ position: "absolute", left: x, top: 54, width: 1, height: 25, background: "#888" }} />
      ))}
      <div style={{ position: "absolute", left: 0, top: 78, width: 180, height: 541, background: "#8f8f8f" }} />
      {tapeTimes.map((t, i) => {
        const red = tapeSides[i] === "R";
        const ink = red ? "#300000" : "#002000";
        const top = 79 + i * 19;
        return (
          <div key={t} style={{ position: "absolute", left: 0, top, width: 180, height: 18, background: red ? "#aa0000" : "#00b800" }}>
            <Txt x={3} y={1} color={ink}>{t}</Txt>
            <Txt x={78} y={1} color={ink}>{tapePrices[i]}</Txt>
            <Txt x={123} y={1} color={ink}>{String(tapeVolumes[i])}</Txt>
            {[76, 120, 153].map((x) => (
              <div key={x} style={{ position: "absolute", left: x, top: 0, width: 1, height: 18, background: "#999" }} />
            ))}
          </div>
        );
      })}
      <div style={{ position: "absolute", left: 181, top: 95, width: 15, height: 20, background: "#cdcdcd" }} />
      <svg width={12} height={619} style={{ position: "absolute", left: 183, top: 0 }}>
        <path d="M2 68 L6 64 L10 68" fill="none" stroke="#444" strokeWidth={1.5} />
        <path d="M2 604 L6 608 L10 604" fill="none" stroke="#444" strokeWidth={1.5} />
      </svg>
    </div>
  );
}

export default function App() {
  return (
    <div style={{ position: "absolute", left: 0, top: 0, width: 1917, height: 1018, overflow: "hidden", background: GREY }}>
      <div style={{ position: "absolute", left: 0, top: 43 }}><PriceChart /></div>
      <div style={{ position: "absolute", left: 0, top: 683 }}><DeltaChart /></div>
      <div style={{ position: "absolute", left: 0, top: 682, width: 1879, height: 2, background: "#000" }} />
      <div style={{ position: "absolute", left: 0, top: 683, width: 1, height: 316, background: "#000" }} />

      {/* status strip over the price panel */}
      <div style={{ position: "absolute", left: 0, top: 43, width: 1879, height: 15, background: GREY }} />
      <Txt x={200} y={43}>Y  800 Trades  #2</Txt>
      <Txt x={290} y={43} w={41} color="#aaa" bg="#000">C: 48.68</Txt>
      <Txt x={335} y={43}>T: 800</Txt>
      <Txt x={368} y={43} w={49} color="#40c040" bg="#00b800">Chg: 0.04</Txt>
      <Txt x={420} y={43} w={62} color="#ff9090" bg="#ff0000">DChg: -0.16</Txt>
      <Txt x={486} y={43}>2016-05-31 22:52:22 H: 48.70 L: 48.63 O: 48.64 V: 985 B: 49.52</Txt>
      <Txt x={929} y={43}>AV: 491 DV: 14957 Volume By Price</Txt>
      <Txt x={1115} y={43} color="#ff00ff">Point of Control 0.00</Txt>
      <Txt x={1250} y={43} w={629}>Volume Profiles, 0, 1, From Session Start Time to End, No, Days, 1, 50, 1, , No, 12:00:00 AM, , 12:00:00 AM, No, Period Length</Txt>

      {/* lower panel legend */}
      <div style={{ position: "absolute", left: 1, top: 684, width: 1878, height: 15, background: GREY }} />
      <Txt x={9} y={684}>Cumulative Delta Bars - Volume  Open: 11639</Txt>
      <Txt x={255} y={684} color="#00ff00">High: 11681</Txt>
      <Txt x={322} y={684}>Low: 11594</Txt>
      <Txt x={387} y={684} color="#ff0000">Close: 11636</Txt>
      <Txt x={460} y={684}>(No)</Txt>

      <Txt x={1790} y={632} size={18} bold color="#000" squeeze={1}>0</Txt>
      <div style={{ position: "absolute", left: 1902, top: 1003, width: 15, height: 15, background: "#ff0000" }} />
      <Txt x={1906} y={1002}>4</Txt>

      {/* title bar and menu */}
      <div style={{ position: "absolute", left: 0, top: 0, width: 1917, height: 41, background: "#fff" }} />
      <div style={{ position: "absolute", left: 0, top: 41, width: 1917, height: 2, background: "#a8a8a8" }} />
      <svg width={18} height={18} style={{ position: "absolute", left: 0, top: 0 }}>
        <circle cx={8} cy={9} r={7.5} fill="#0b2fbf" stroke="#000" />
        <path d="M4 4 L9 3 L10 8 L6 11 Z M10 11 L13 10 L12 15 Z" fill="#2fae3a" />
      </svg>
      <Txt x={21} y={2} size={13}>SC CL.20160700.CME_NY  800 Trades  #2  Crude Oil (Jul16)</Txt>
      {[["Edit", 5], ["Chart", 39], ["Analysis", 82], ["Tools", 139], ["Trade", 181], ["Window", 224], ["CB", 282], ["CW", 311], ["Help", 344]].map(([t, x]) => (
        <Txt key={t as string} x={x} y={23} size={13}>{t}</Txt>
      ))}
      <div style={{ position: "absolute", left: 1797, top: 8, width: 10, height: 1, background: "#000" }} />
      <div style={{ position: "absolute", left: 1843, top: 6, width: 7, height: 7, border: "1px solid #000" }} />
      <div style={{ position: "absolute", left: 1845, top: 4, width: 7, height: 7, borderTop: "1px solid #000", borderRight: "1px solid #000" }} />
      <Txt x={1887} y={0} size={18} squeeze={1}>×</Txt>

      <TapeWindow />

      {/* hand drawn annotations */}
      <svg width={1917} height={1018} style={{ position: "absolute", left: 0, top: 0, pointerEvents: "none" }}>
        <Arrow x1={688} y1={217} x2={795} y2={302} color="#0000ff" />
        <Arrow x1={896} y1={97} x2={980} y2={171} color="#0000ff" />
        <Arrow x1={1210} y1={119} x2={1247} y2={172} color="#0000ff" />
        <Arrow x1={1275} y1={329} x2={1365} y2={275} color="#ff0000" />
        <Arrow x1={1460} y1={517} x2={1507} y2={475} color="#ff0000" />
      </svg>
      <Callout x={598} y={165} w={100} h={47} color="#0000ff" lines={["nice move"]} />
      <Callout x={796} y={18} w={132} h={56} color="#0000ff" lines={["enough move to", "reduce risk"]} />
      <Callout x={1129} y={48} w={139} h={61} color="#0000ff" lines={["enough move to", "reduce risk"]} />
      <Callout x={1141} y={319} w={121} h={71} color="#ff0000" lines={["explosive", "move with", "huge R/R"]} />
    </div>
  );
}
